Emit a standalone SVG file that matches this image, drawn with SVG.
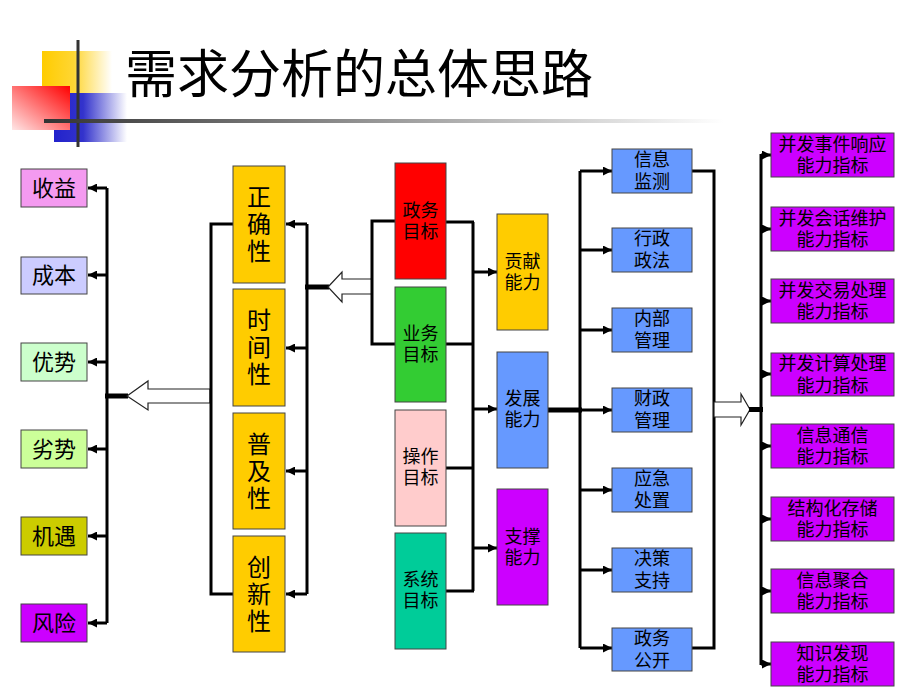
<svg xmlns="http://www.w3.org/2000/svg" width="920" height="690" viewBox="0 0 920 690">
<defs>
<style>
.t{font-family:"Liberation Sans","Noto Sans CJK SC",sans-serif;fill:#000;text-anchor:middle;dominant-baseline:central}
.box{stroke:#444;stroke-width:1}
.bus{fill:none;stroke:#000;stroke-width:3}
.arr{fill:none;stroke:#000;stroke-width:3;marker-end:url(#ah)}
.thick{fill:none;stroke:#000;stroke-width:5}
.hollow{fill:#fff;stroke:#222;stroke-width:1.2}
.s22{font-size:22px}.s24{font-size:24px}.s18{font-size:18px}
</style>
<marker id="ah" viewBox="0 0 10 10" refX="10" refY="5" markerWidth="9" markerHeight="9" markerUnits="userSpaceOnUse" orient="auto">
<path d="M0,0 L10,5 L0,10 z" fill="#000"/>
</marker>
<linearGradient id="gy" x1="0" y1="0" x2="1" y2="0">
<stop offset="0" stop-color="#FFCC00"/><stop offset="0.45" stop-color="#FFD633"/><stop offset="1" stop-color="#FFFFFF"/>
</linearGradient>
<linearGradient id="gb" x1="0" y1="0" x2="1" y2="0">
<stop offset="0" stop-color="#2222CC"/><stop offset="0.4" stop-color="#3333CC"/><stop offset="1" stop-color="#FFFFFF"/>
</linearGradient>
<linearGradient id="gr" x1="1" y1="0" x2="0" y2="1">
<stop offset="0" stop-color="#FF0000"/><stop offset="1" stop-color="#FFE6E6"/>
</linearGradient>
<linearGradient id="gl" x1="0" y1="0" x2="1" y2="0">
<stop offset="0" stop-color="#333333"/><stop offset="0.5" stop-color="#999999"/><stop offset="1" stop-color="#FFFFFF"/>
</linearGradient>
</defs>
<rect width="920" height="690" fill="#fff"/>

<g id="logo">
<rect x="42" y="51" width="70" height="60" fill="url(#gy)"/>
<rect x="54" y="93" width="73" height="49" fill="url(#gb)"/>
<rect x="12" y="86" width="58" height="44" fill="url(#gr)"/>
<line x1="78" y1="40" x2="78" y2="147" stroke="#333" stroke-width="3"/>
<rect x="44" y="119" width="680" height="4" fill="url(#gl)"/>
</g>

<g id="title">
<text x="125" y="75" class="t" style="font-size:52px;text-anchor:start">需求分析的总体思路</text>
</g>

<g id="connectors">
<line class="bus" x1="107" y1="188" x2="107" y2="623"/>
<line class="arr" x1="107" y1="188" x2="88" y2="188"/>
<line class="arr" x1="107" y1="275" x2="88" y2="275"/>
<line class="arr" x1="107" y1="362" x2="88" y2="362"/>
<line class="arr" x1="107" y1="449" x2="88" y2="449"/>
<line class="arr" x1="107" y1="536" x2="88" y2="536"/>
<line class="arr" x1="107" y1="623" x2="88" y2="623"/>
<line class="thick" x1="105" y1="396" x2="128" y2="396"/>
<polygon class="hollow" points="127,396 148,381 148,389 210,389 210,403 148,403 148,410"/>
<polyline class="bus" points="233,224 211,224 211,594 233,594"/>
<line class="bus" x1="307" y1="224" x2="307" y2="594"/>
<line class="arr" x1="307" y1="224" x2="286" y2="224"/>
<line class="arr" x1="307" y1="348" x2="286" y2="348"/>
<line class="arr" x1="307" y1="471" x2="286" y2="471"/>
<line class="arr" x1="307" y1="594" x2="286" y2="594"/>
<line class="thick" x1="305" y1="287" x2="329" y2="287"/>
<polygon class="hollow" points="328,287 342,272 342,279 372,279 372,294 342,294 342,302"/>
<polyline class="bus" points="395,221 372,221 372,344 395,344"/>
<line class="bus" x1="446" y1="222" x2="474" y2="222"/>
<line class="bus" x1="446" y1="344" x2="474" y2="344"/>
<line class="bus" x1="446" y1="468" x2="474" y2="468"/>
<line class="bus" x1="446" y1="591" x2="474" y2="591"/>
<line class="bus" x1="473" y1="222" x2="473" y2="591"/>
<line class="arr" x1="473" y1="272" x2="497" y2="272"/>
<line class="arr" x1="473" y1="409" x2="497" y2="409"/>
<line class="arr" x1="473" y1="548" x2="497" y2="548"/>
<line class="thick" x1="548" y1="410" x2="582" y2="410"/>
<line class="bus" x1="580" y1="171" x2="580" y2="648"/>
<line class="arr" x1="580" y1="171" x2="612" y2="171"/>
<line class="arr" x1="580" y1="250" x2="612" y2="250"/>
<line class="arr" x1="580" y1="330" x2="612" y2="330"/>
<line class="arr" x1="580" y1="410" x2="612" y2="410"/>
<line class="arr" x1="580" y1="490" x2="612" y2="490"/>
<line class="arr" x1="580" y1="570" x2="612" y2="570"/>
<line class="arr" x1="580" y1="648" x2="612" y2="648"/>
<polyline class="bus" points="692,171 714,171 714,648 692,648"/>
<polygon class="hollow" points="714,402 741,402 741,394 750,409.5 741,425 741,417 714,417"/>
<line class="thick" x1="749" y1="409.5" x2="763" y2="409.5"/>
<line class="bus" x1="761" y1="154" x2="761" y2="665"/>
<line class="arr" x1="761" y1="155" x2="771" y2="155"/>
<line class="arr" x1="761" y1="229" x2="771" y2="229"/>
<line class="arr" x1="761" y1="301" x2="771" y2="301"/>
<line class="arr" x1="761" y1="374" x2="771" y2="374"/>
<line class="arr" x1="761" y1="446" x2="771" y2="446"/>
<line class="arr" x1="761" y1="519" x2="771" y2="519"/>
<line class="arr" x1="761" y1="591" x2="771" y2="591"/>
<line class="arr" x1="761" y1="664" x2="771" y2="664"/>
</g>

<g id="n-shouyi"><rect class="box" x="21" y="169" width="66" height="38" fill="#F49AF0"/><text class="t s22" x="54" y="188">收益</text></g>
<g id="n-chengben"><rect class="box" x="21" y="257" width="66" height="37" fill="#CCCCFF"/><text class="t s22" x="54" y="275.5">成本</text></g>
<g id="n-youshi"><rect class="box" x="21" y="343" width="66" height="38" fill="#CCFFCC"/><text class="t s22" x="54" y="362">优势</text></g>
<g id="n-lieshi"><rect class="box" x="21" y="430" width="66" height="38" fill="#CCFF99"/><text class="t s22" x="54" y="449">劣势</text></g>
<g id="n-jiyu"><rect class="box" x="21" y="517" width="66" height="38" fill="#CCCC00"/><text class="t s22" x="54" y="536">机遇</text></g>
<g id="n-fengxian"><rect class="box" x="21" y="604" width="66" height="38" fill="#CC00FF"/><text class="t s22" x="54" y="623">风险</text></g>

<g id="n-zhengquexing"><rect class="box" x="233" y="166" width="52" height="117" fill="#FFCC00"/><text class="t s24" x="259"><tspan x="259" y="197">正</tspan><tspan x="259" y="224">确</tspan><tspan x="259" y="251">性</tspan></text></g>
<g id="n-shijianxing"><rect class="box" x="233" y="289" width="52" height="117" fill="#FFCC00"/><text class="t s24" x="259"><tspan x="259" y="320">时</tspan><tspan x="259" y="347">间</tspan><tspan x="259" y="374">性</tspan></text></g>
<g id="n-pujixing"><rect class="box" x="233" y="413" width="52" height="116" fill="#FFCC00"/><text class="t s24" x="259"><tspan x="259" y="444">普</tspan><tspan x="259" y="471">及</tspan><tspan x="259" y="498">性</tspan></text></g>
<g id="n-chuangxinxing"><rect class="box" x="233" y="536" width="52" height="116" fill="#FFCC00"/><text class="t s24" x="259"><tspan x="259" y="567">创</tspan><tspan x="259" y="594">新</tspan><tspan x="259" y="621">性</tspan></text></g>

<g id="n-zhengwumubiao"><rect class="box" x="395" y="163" width="51" height="116" fill="#FF0000"/><text class="t s18"><tspan x="420.5" y="211">政务</tspan><tspan x="420.5" y="232">目标</tspan></text></g>
<g id="n-yewumubiao"><rect class="box" x="395" y="287" width="51" height="115" fill="#33CC33"/><text class="t s18"><tspan x="420.5" y="334">业务</tspan><tspan x="420.5" y="355">目标</tspan></text></g>
<g id="n-caozuomubiao"><rect class="box" x="395" y="410" width="51" height="116" fill="#FFCCCC"/><text class="t s18"><tspan x="420.5" y="457">操作</tspan><tspan x="420.5" y="478">目标</tspan></text></g>
<g id="n-xitongmubiao"><rect class="box" x="395" y="533" width="51" height="116" fill="#00CC99"/><text class="t s18"><tspan x="420.5" y="580">系统</tspan><tspan x="420.5" y="601">目标</tspan></text></g>

<g id="n-gongxian"><rect class="box" x="497" y="214" width="51" height="116" fill="#FFCC00"/><text class="t s18"><tspan x="522.5" y="262">贡献</tspan><tspan x="522.5" y="283">能力</tspan></text></g>
<g id="n-fazhan"><rect class="box" x="497" y="352" width="51" height="116" fill="#6699FF"/><text class="t s18"><tspan x="522.5" y="399">发展</tspan><tspan x="522.5" y="420">能力</tspan></text></g>
<g id="n-zhicheng"><rect class="box" x="497" y="489" width="51" height="116" fill="#CC00FF"/><text class="t s18"><tspan x="522.5" y="537">支撑</tspan><tspan x="522.5" y="558">能力</tspan></text></g>

<g id="n-xinxijiance"><rect class="box" x="612" y="149" width="80" height="44" fill="#6699FF"/><text class="t s18"><tspan x="652" y="160">信息</tspan><tspan x="652" y="182">监测</tspan></text></g>
<g id="n-xingzheng"><rect class="box" x="612" y="228" width="80" height="44" fill="#6699FF"/><text class="t s18"><tspan x="652" y="239">行政</tspan><tspan x="652" y="261">政法</tspan></text></g>
<g id="n-neibu"><rect class="box" x="612" y="308" width="80" height="44" fill="#6699FF"/><text class="t s18"><tspan x="652" y="319">内部</tspan><tspan x="652" y="341">管理</tspan></text></g>
<g id="n-caizheng"><rect class="box" x="612" y="388" width="80" height="44" fill="#6699FF"/><text class="t s18"><tspan x="652" y="399">财政</tspan><tspan x="652" y="421">管理</tspan></text></g>
<g id="n-yingji"><rect class="box" x="612" y="468" width="80" height="44" fill="#6699FF"/><text class="t s18"><tspan x="652" y="479">应急</tspan><tspan x="652" y="501">处置</tspan></text></g>
<g id="n-juece"><rect class="box" x="612" y="548" width="80" height="44" fill="#6699FF"/><text class="t s18"><tspan x="652" y="559">决策</tspan><tspan x="652" y="581">支持</tspan></text></g>
<g id="n-zhengwugongkai"><rect class="box" x="612" y="628" width="80" height="43" fill="#6699FF"/><text class="t s18"><tspan x="652" y="639">政务</tspan><tspan x="652" y="661">公开</tspan></text></g>

<g id="n-ind1"><rect class="box" x="771" y="133" width="123" height="44" fill="#CC00FF"/><text class="t s18"><tspan x="832.5" y="144.5">并发事件响应</tspan><tspan x="832.5" y="166">能力指标</tspan></text></g>
<g id="n-ind2"><rect class="box" x="771" y="207" width="123" height="44" fill="#CC00FF"/><text class="t s18"><tspan x="832.5" y="218.5">并发会话维护</tspan><tspan x="832.5" y="240">能力指标</tspan></text></g>
<g id="n-ind3"><rect class="box" x="771" y="279" width="123" height="44" fill="#CC00FF"/><text class="t s18"><tspan x="832.5" y="290.5">并发交易处理</tspan><tspan x="832.5" y="312">能力指标</tspan></text></g>
<g id="n-ind4"><rect class="box" x="771" y="353" width="123" height="43" fill="#CC00FF"/><text class="t s18"><tspan x="832.5" y="364">并发计算处理</tspan><tspan x="832.5" y="385.5">能力指标</tspan></text></g>
<g id="n-ind5"><rect class="box" x="771" y="424" width="123" height="44" fill="#CC00FF"/><text class="t s18"><tspan x="832.5" y="435.5">信息通信</tspan><tspan x="832.5" y="457">能力指标</tspan></text></g>
<g id="n-ind6"><rect class="box" x="771" y="497" width="123" height="44" fill="#CC00FF"/><text class="t s18"><tspan x="832.5" y="508.5">结构化存储</tspan><tspan x="832.5" y="530">能力指标</tspan></text></g>
<g id="n-ind7"><rect class="box" x="771" y="569" width="123" height="44" fill="#CC00FF"/><text class="t s18"><tspan x="832.5" y="580.5">信息聚合</tspan><tspan x="832.5" y="602">能力指标</tspan></text></g>
<g id="n-ind8"><rect class="box" x="771" y="642" width="123" height="44" fill="#CC00FF"/><text class="t s18"><tspan x="832.5" y="653.5">知识发现</tspan><tspan x="832.5" y="675">能力指标</tspan></text></g>
</svg>
